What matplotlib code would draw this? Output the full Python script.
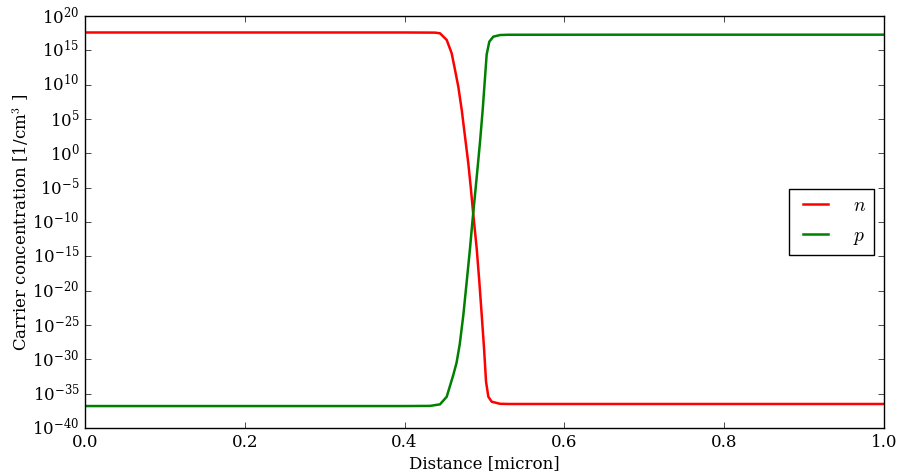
import numpy as np
import matplotlib
matplotlib.use("Agg")
import matplotlib.pyplot as plt

# carrier concentrations across a pn junction
# (log10 values so they're easy to type)
x_n = [0.0, 0.20, 0.40, 0.438, 0.4443, 0.4527, 0.4589, 0.4631, 0.4672, 0.4715,
       0.4756, 0.4797, 0.4827, 0.4860, 0.4902, 0.4935, 0.4965, 0.4994, 0.5019,
       0.5048, 0.5090, 0.5194, 0.53, 0.7, 1.0]
logn = [17.6, 17.6, 17.6, 17.58, 17.48, 16.51, 14.57, 12.14, 9.70, 6.31,
        2.42, -1.45, -4.86, -8.98, -13.83, -18.69, -23.54, -28.39, -33.25,
        -35.44, -36.17, -36.47, -36.5, -36.5, -36.5]

x_p = [0.0, 0.20, 0.40, 0.4318, 0.4443, 0.4527, 0.4609, 0.4650, 0.4690, 0.4735,
       0.4777, 0.4818, 0.4852, 0.4902, 0.4944, 0.4977, 0.5006, 0.5027, 0.5060,
       0.5110, 0.5194, 0.53, 0.7, 1.0]
logp = [-36.8, -36.8, -36.8, -36.78, -36.55, -35.44, -32.28, -30.5, -27.8, -23.54,
        -18.69, -13.9, -9.5, -3.5, 1.7, 6.31, 11.0, 14.4, 16.26,
        16.99, 17.23, 17.27, 17.28, 17.28]

yticks = [1e20, 1e15, 1e10, 1e5, 1e0, 1e-5, 1e-10, 1e-15, 1e-20,
          1e-25, 1e-30, 1e-35, 1e-40]

plt.style.use("classic")
plt.rcParams["figure.facecolor"] = "white"
plt.rcParams["font.family"] = "serif"
plt.rcParams["font.serif"] = ["DejaVu Serif"]
plt.rcParams["mathtext.fontset"] = "cm"
plt.rcParams["axes.unicode_minus"] = False

fig = plt.figure(figsize=(8.99, 4.75), dpi=100)
ax = fig.add_axes([0.0946, 0.0989, 0.8887, 0.8674])

ax.plot(x_n, 10.0**np.array(logn), color="r", lw=1.8, label="$n$")
ax.plot(x_p, 10.0**np.array(logp), color="g", lw=1.8, label="$p$")
ax.set_yscale("log")
ax.set_xlim(0, 1)
ax.set_ylim(1e-40, 1e20)
ax.set_yticks(yticks)
ax.minorticks_off()
ax.set_yticklabels([r"$\mathdefault{10^{%d}}$" % round(np.log10(t)) for t in yticks])

ax.set_xlabel("Distance [micron]")
ax.set_ylabel("Carrier concentration [1/cm$^3$ ]")
ax.xaxis.set_label_coords(0.5, -0.065)
ax.yaxis.set_label_coords(-0.068, 0.5)
ax.legend(loc="center right", fontsize=14, handlelength=1.9,
          handletextpad=1.0, labelspacing=0.6, borderaxespad=0.5)

fig.savefig("out.png", dpi=100)
